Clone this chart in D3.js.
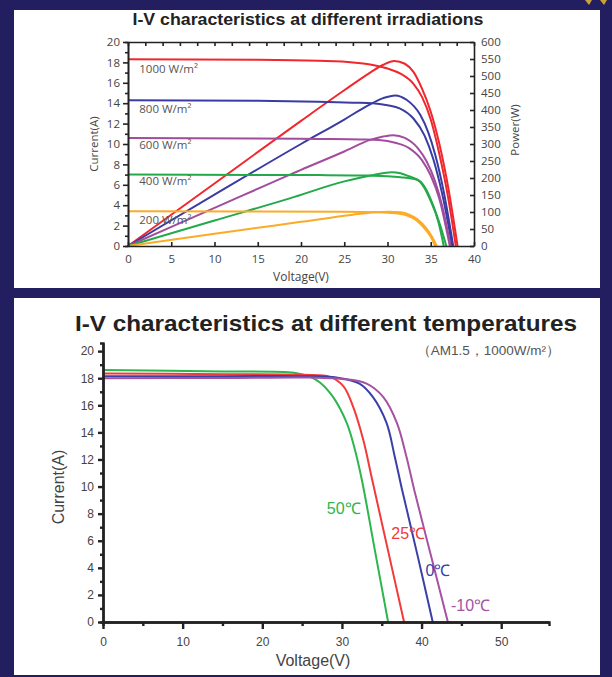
<!DOCTYPE html>
<html>
<head>
<meta charset="utf-8">
<script src="https://cdn.jsdelivr.net/npm/d3@7"></script>
<style>
  body { margin: 0; padding: 0; background: #231e5f; }
  svg { display: block; }
</style>
</head>
<body>
<div id="chart"></div>
<script>
// ---- top chart: irradiation (V, I) and (V, P) ----
var irrLabels = ["1000 W/m²", "800 W/m²", "600 W/m²", "400 W/m²", "200 W/m²"];
var irrColors = ["#f0282d", "#3a3ca3", "#a24c9e", "#23a94b", "#fbab25"];
var irrLabelI = [17, 13, 9.5, 6, 2.2];

var iv1000 = [[0,18.3],[15,18.25],[22,18.15],[26,18.0],[28,17.8],[30,17.4],[31.5,16.9],[33,15.9],[34,14.6],[35,12.4],[36,9.0],[37,4.8],[37.9,0]];
var iv800 = [[0,14.3],[15,14.25],[22,14.15],[26,14.05],[28.3,14.0],[30,13.8],[31.4,13.5],[33,12.5],[34.3,10.8],[35.3,8.5],[36.3,5.2],[37.5,0]];
var iv600 = [[0,10.6],[15,10.55],[22,10.5],[27,10.45],[29,10.4],[31,10.1],[32.5,9.6],[34,8.4],[35,6.9],[36,4.6],[37.2,0]];
var iv400 = [[0,7.0],[15,6.97],[22,6.95],[28,6.9],[30,6.85],[31.5,6.75],[33.4,6.5],[34.2,5.8],[34.9,4.6],[35.9,2.3],[36.5,0]];
var iv200 = [[0,3.4],[15,3.38],[25,3.35],[29,3.32],[31,3.2],[32.2,3.0],[33.2,2.6],[34.1,1.9],[35,0.9],[35.5,0]];

var p1000 = [[0,0],[10,184],[20,368],[25,458],[28,510],[29.5,533],[30.8,544],[32,536],[33,512],[34,462],[35,395],[36,300],[37,175],[38.1,0]];
var p800 = [[0,0],[10,151],[20,300],[25,372],[27.5,410],[29.5,435],[30.9,443],[32.2,430],[33.8,385],[34.7,335],[35.5,270],[36.5,160],[37.6,0]];
var p600 = [[0,0],[10,112],[20,224],[25,278],[28,312],[29.5,322],[30.7,326],[32,318],[33.5,288],[34.5,250],[35.5,190],[36.3,120],[37.3,0]];
var p400 = [[0,0],[10,75],[18.7,140],[25,190],[28.4,209],[30.5,217],[31.5,214],[32.5,205],[33.8,190],[34.6,160],[35.3,118],[36.1,60],[36.8,0]];
var p200 = [[0,0],[10,36],[20,71],[26,92],[28.5,99],[30.1,101],[31.5,99],[32.5,92],[33.5,78],[34.5,52],[35.2,25],[35.7,0]];

var ivCurves = [iv1000, iv800, iv600, iv400, iv200];
var pCurves = [p1000, p800, p600, p400, p200];

var vTicks1 = [0, 5, 10, 15, 20, 25, 30, 35, 40];
var iTicks1 = [0, 2, 4, 6, 8, 10, 12, 14, 16, 18, 20];
var pTicks1 = [0, 50, 100, 150, 200, 250, 300, 350, 400, 450, 500, 550, 600];

// ---- bottom chart: temperature (V, I) ----
var tempLabels = ["50℃", "25℃", "0℃", "-10℃"];
var tempColors = ["#2db54e", "#f23a3a", "#3b3fa8", "#a552a3"];
var ivT50 = [[0,18.6],[15,18.5],[24,18.4],[26,18.1],[27.2,17.7],[28.9,16.6],[30.6,14.7],[31.6,12.8],[32.5,10.5],[34.15,5.25],[35.8,0]];
var ivT25 = [[0,18.35],[15,18.3],[25,18.25],[28.5,18.1],[30.2,17.4],[31.4,15.9],[32.7,13.4],[33.8,10.5],[35.8,5.25],[37.8,0]];
var ivT0 = [[0,18.15],[15,18.15],[26,18.15],[29.3,18.05],[32.2,17.6],[33.9,16.6],[35.6,14.7],[36.6,12.3],[37.5,9.9],[39.5,4.9],[41.4,0]];
var ivTm10 = [[0,18.0],[15,18.02],[26,18.05],[30,17.95],[33.1,17.6],[35.2,16.6],[36.9,14.7],[38.1,12.2],[39.1,9.7],[41.2,4.85],[43.3,0]];
var tempCurves = [ivT50, ivT25, ivT0, ivTm10];
var tempLabelPos = [[28.1,8.0],[36.2,6.1],[40.5,3.4],[43.7,0.8]];

var vTicks2 = [0, 10, 20, 30, 40, 50];
var vMinor2 = [5, 15, 25, 35, 45];
var iTicks2 = [0, 2, 4, 6, 8, 10, 12, 14, 16, 18, 20];

function init() {
    var w = 612, h = 677;
    var svg = d3.select("#chart").append("svg")
        .attr("width", w)
        .attr("height", h);

    svg.append("rect").attr("width", w).attr("height", h).attr("fill", "#231e5f");
    // white panels
    svg.append("path").attr("d", "M14,10 L600,10 L600,288 L14,288 Z").attr("fill", "#ffffff");
    svg.append("rect").attr("x", 14).attr("y", 298).attr("width", 586).attr("height", 377).attr("fill", "#ffffff");
    // small gold decoration top-right
    svg.append("path").attr("d", "M585,0 L592,0 L589,5 Z M600,0 L607,0 L604,5 Z").attr("fill", "#c9a23a");

    // ================= TOP CHART =================
    var x1 = d3.scaleLinear().domain([0, 40]).range([128, 474]);
    var yI = d3.scaleLinear().domain([0, 20]).range([246, 42]);
    var yP = d3.scaleLinear().domain([0, 600]).range([246, 42]);
    var top = svg.append("g").attr("font-family", "'Open Sans', 'Liberation Sans', sans-serif");

    top.append("text")
        .attr("x", 308).attr("y", 25)
        .attr("text-anchor", "middle")
        .attr("font-family", "'Liberation Sans', Arial, sans-serif")
        .attr("font-weight", "bold")
        .attr("font-size", 16.5)
        .attr("textLength", 351)
        .attr("lengthAdjust", "spacingAndGlyphs")
        .attr("fill", "#222")
        .text("I-V characteristics at different irradiations");

    var lineIV = d3.line().x(function (d) { return x1(d[0]); }).y(function (d) { return yI(d[1]); }).curve(d3.curveMonotoneX);
    var lineP = d3.line().x(function (d) { return x1(d[0]); }).y(function (d) { return yP(d[1]); }).curve(d3.curveMonotoneX);

    top.selectAll(".pcurve").data(pCurves).enter().append("path")
        .attr("class", "pcurve")
        .attr("d", lineP)
        .attr("fill", "none")
        .attr("stroke", function (d, i) { return irrColors[i]; })
        .attr("stroke-width", 2);

    top.selectAll(".ivcurve").data(ivCurves).enter().append("path")
        .attr("class", "ivcurve")
        .attr("d", lineIV)
        .attr("fill", "none")
        .attr("stroke", function (d, i) { return irrColors[i]; })
        .attr("stroke-width", 2);

    top.selectAll(".irrlabel").data(irrLabels).enter().append("text")
        .attr("class", "irrlabel")
        .attr("x", x1(1.3))
        .attr("y", function (d, i) { return yI(irrLabelI[i]); })
        .attr("font-size", 11.5)
        .attr("fill", "#555")
        .text(function (d) { return d; });

    // axes
    top.append("g").attr("transform", "translate(0,246)")
        .call(d3.axisBottom(x1).tickValues(vTicks1).tickSizeInner(-4).tickSizeOuter(0).tickPadding(9));
    top.append("g").attr("transform", "translate(0,42)")
        .call(d3.axisTop(x1).ticks(20).tickSizeInner(-4).tickSizeOuter(0).tickFormat(""));
    top.append("g").attr("transform", "translate(128,0)")
        .call(d3.axisLeft(yI).tickValues(iTicks1).tickSizeInner(5).tickSizeOuter(0).tickPadding(3));
    top.append("g").attr("transform", "translate(128,0)")
        .call(d3.axisLeft(yI).tickValues(d3.range(1, 20, 2)).tickSize(3).tickFormat(""));
    top.append("g").attr("transform", "translate(474,0)")
        .call(d3.axisRight(yP).tickValues(pTicks1).tickSizeInner(-4).tickSizeOuter(0).tickPadding(7));
    top.selectAll(".domain, .tick line").attr("stroke", "#222").attr("stroke-width", 1.6);
    top.selectAll(".tick text").attr("font-size", 11.5).attr("fill", "#444").attr("font-family", "'Open Sans', sans-serif");

    top.append("text")
        .attr("x", 301).attr("y", 281)
        .attr("text-anchor", "middle")
        .attr("font-size", 12).attr("fill", "#444")
        .text("Voltage(V)");
    top.append("text")
        .attr("transform", "translate(98,144) rotate(-90)")
        .attr("text-anchor", "middle")
        .attr("font-size", 11.5).attr("fill", "#444")
        .text("Current(A)");
    top.append("text")
        .attr("transform", "translate(519,130) rotate(-90)")
        .attr("text-anchor", "middle")
        .attr("font-size", 11.5).attr("fill", "#444")
        .text("Power(W)");

    // ================= BOTTOM CHART =================
    var x2 = d3.scaleLinear().domain([0, 56]).range([103, 549]);
    var y2 = d3.scaleLinear().domain([0, 20.6]).range([622, 343]);
    var bot = svg.append("g").attr("font-family", "'Liberation Sans', Arial, sans-serif");

    bot.append("text")
        .attr("x", 326).attr("y", 331)
        .attr("text-anchor", "middle")
        .attr("font-weight", "bold")
        .attr("font-size", 21.5)
        .attr("textLength", 502)
        .attr("lengthAdjust", "spacingAndGlyphs")
        .attr("fill", "#222")
        .text("I-V characteristics at different temperatures");
    bot.append("text")
        .attr("x", 560).attr("y", 355)
        .attr("text-anchor", "end")
        .attr("font-size", 13.5)
        .attr("fill", "#555")
        .text("（AM1.5，1000W/m²）");

    var line2 = d3.line().x(function (d) { return x2(d[0]); }).y(function (d) { return y2(d[1]); }).curve(d3.curveCatmullRom.alpha(0.5));
    bot.selectAll(".tcurve").data(tempCurves).enter().append("path")
        .attr("class", "tcurve")
        .attr("d", line2)
        .attr("fill", "none")
        .attr("stroke", function (d, i) { return tempColors[i]; })
        .attr("stroke-width", 2);

    bot.selectAll(".tlabel").data(tempLabels).enter().append("text")
        .attr("class", "tlabel")
        .attr("x", function (d, i) { return x2(tempLabelPos[i][0]); })
        .attr("y", function (d, i) { return y2(tempLabelPos[i][1]); })
        .attr("font-size", 16)
        .attr("fill", function (d, i) { return tempColors[i]; })
        .text(function (d) { return d; });

    bot.append("g").attr("transform", "translate(0,622)")
        .call(d3.axisBottom(x2).tickValues(vTicks2).tickSizeInner(7).tickSizeOuter(0).tickPadding(8));
    bot.append("g").attr("transform", "translate(0,622)")
        .call(d3.axisBottom(x2).tickValues(vMinor2).tickSize(4).tickFormat(""));
    bot.append("g").attr("transform", "translate(103,0)")
        .call(d3.axisLeft(y2).tickValues(iTicks2).tickSizeInner(5).tickSizeOuter(0).tickPadding(4));
    bot.append("g").attr("transform", "translate(103,0)")
        .call(d3.axisLeft(y2).tickValues(d3.range(1, 20, 2)).tickSize(3).tickFormat(""));
    bot.selectAll(".domain, .tick line").attr("stroke", "#222").attr("stroke-width", 2.4);
    bot.selectAll(".tick text").attr("font-size", 12).attr("fill", "#444").attr("font-family", "'Liberation Sans', Arial, sans-serif");

    bot.append("text")
        .attr("x", 313).attr("y", 666)
        .attr("text-anchor", "middle")
        .attr("font-size", 16).attr("fill", "#444")
        .text("Voltage(V)");
    bot.append("text")
        .attr("transform", "translate(64,487) rotate(-90)")
        .attr("text-anchor", "middle")
        .attr("font-size", 16).attr("fill", "#444")
        .text("Current(A)");
}

window.onload = init;
</script>
</body>
</html>
